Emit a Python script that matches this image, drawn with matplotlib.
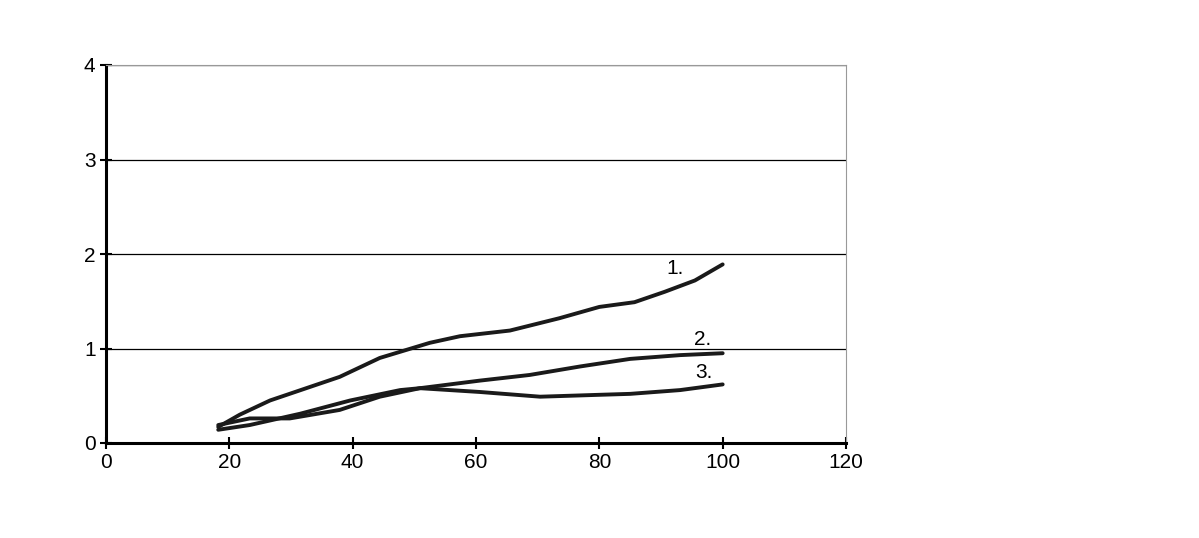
import matplotlib
matplotlib.use("Agg")
import matplotlib.pyplot as plt

x1 = [18.2, 21.7, 26.6, 37.9, 44.4, 52.5, 57.4, 65.5, 73.5, 80.0, 85.7, 90.6, 95.5, 100.0]
y1 = [0.17, 0.30, 0.45, 0.70, 0.90, 1.06, 1.13, 1.19, 1.32, 1.44, 1.49, 1.60, 1.72, 1.89]
x2 = [18.2, 23.3, 31.5, 39.6, 47.7, 50.9, 60.6, 68.7, 76.9, 85.0, 93.1, 100.0]
y2 = [0.14, 0.19, 0.31, 0.45, 0.56, 0.58, 0.66, 0.72, 0.81, 0.89, 0.93, 0.95]
x3 = [18.2, 23.3, 29.8, 37.9, 44.4, 50.9, 60.6, 70.4, 80.0, 85.0, 93.1, 100.0]
y3 = [0.19, 0.26, 0.26, 0.35, 0.49, 0.58, 0.54, 0.49, 0.51, 0.52, 0.56, 0.62]
labels = ["1.", "2.", "3."]
label_pos = [(92.3, 1.85), (96.8, 1.09), (97.0, 0.75)]

fig = plt.figure(figsize=(11.99, 5.38), dpi=100)
ax = fig.add_axes([106/1199, 1-443/538, 740/1199, 378/538])
for xs, ys in [(x1, y1), (x2, y2), (x3, y3)]:
    ax.plot(xs, ys, color="#1a1a1a", lw=2.8, solid_joinstyle="round", solid_capstyle="round")
for t, (lx, ly) in zip(labels, label_pos):
    ax.text(lx, ly, t, fontsize=15, ha="center", va="center", family="Liberation Sans")
ax.set_xlim(0, 120)
ax.set_ylim(0, 4)
ax.set_xticks(range(0, 121, 20))
ax.set_yticks(range(0, 5))
ax.grid(axis="y", color="black", lw=0.9)
ax.set_axisbelow(True)
for s in ["top", "right"]:
    ax.spines[s].set_color("#999999")
    ax.spines[s].set_linewidth(0.8)
for s in ["left", "bottom"]:
    ax.spines[s].set_linewidth(2.2)
ax.tick_params(direction="inout", length=8, width=1.5, labelsize=15)
for lab in ax.get_xticklabels() + ax.get_yticklabels():
    lab.set_family("Liberation Sans")
fig.savefig("out.png", dpi=100)
